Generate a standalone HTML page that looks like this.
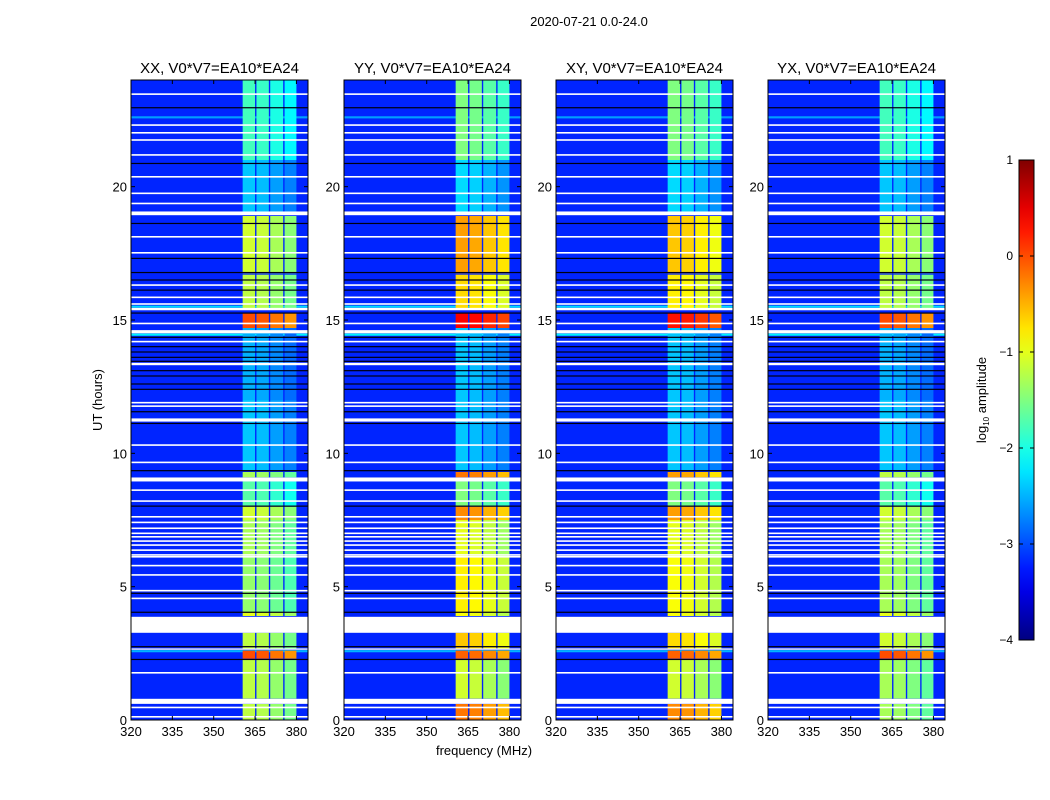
<!DOCTYPE html>
<html><head><meta charset="utf-8">
<style>
html,body{margin:0;padding:0;background:#fff;}
svg{display:block;font-family:"Liberation Sans","DejaVu Sans",sans-serif;}
</style></head>
<body>
<svg id="fig" width="1050" height="800" viewBox="0 0 1050 800" xmlns="http://www.w3.org/2000/svg">
<text x="589" y="26" font-size="13" text-anchor="middle">2020-07-21 0.0-24.0</text>
<text transform="translate(102,400) rotate(-90)" font-size="13" text-anchor="middle">UT (hours)</text>
<text x="484" y="755" font-size="13" text-anchor="middle">frequency (MHz)</text>
<g id="panels"></g>
<g id="cbar"></g>
</svg>
<script>
// ---- data ----
const panelNames = ['XX, V0*V7=EA10*EA24','YY, V0*V7=EA10*EA24','XY, V0*V7=EA10*EA24','YX, V0*V7=EA10*EA24'];
const xTicks = [320,335,350,365,380];
const yTicks = [0,5,10,15,20];
const cbTicks = [1,0,-1,-2,-3,-4];
const bgLevel = -3.2;
const segStart = [21.0,19.0,16.75,15.4,14.7,12.0,9.35,9.1,8.0,7.5,6.1,4.05,3.9,2.65,2.3,0.8,0.0];
const segEnd   = [24.0,21.0,18.9,16.7,15.25,14.7,12.0,9.3,8.95,8.0,7.5,6.1,4.05,3.27,2.6,2.27,0.6];
const levelsXX = [-1.9,-2.5,-1.2,-1.3,-0.1,-2.6,-2.5,-1.4,-1.8,-1.2,-1.4,-1.5,-1.1,-1.3,-0.1,-1.3,-1.3];
const levelsYY = [-1.6,-2.4,-0.5,-0.8,0.3,-2.5,-2.5,-0.3,-1.6,-0.4,-1.1,-0.9,-1.0,-0.7,-0.2,-1.2,-0.3];
const levelsXY = [-1.6,-2.4,-0.7,-0.9,0.2,-2.5,-2.5,-0.5,-1.6,-0.5,-1.1,-1.0,-1.0,-0.8,-0.2,-1.2,-0.4];
const levelsYX = [-1.9,-2.5,-1.2,-1.3,-0.1,-2.6,-2.5,-1.3,-1.8,-1.2,-1.4,-1.4,-1.1,-1.2,-0.1,-1.4,-1.4];
const subStart = [360.5,365.5,370.5,375.7];
const subEnd   = [365.0,370.0,375.2,380.0];
const subOffset = [0.1,0.05,-0.1,-0.25];
const stripeT = [22.6,15.5,14.45,2.58];
const stripeLevel = [-2.6,-2.3,-2.2,-2.5];
const whiteT = [23.47,22.31,22.02,21.75,21.19,20.37,19.75,19.37,19.0,18.12,17.52,16.31,15.85,15.6,15.41,14.87,14.56,14.19,13.35,11.9,11.77,11.25,10.31,9.66,9.02,8.62,8.21,7.62,7.41,7.19,7.0,6.87,6.71,6.56,6.37,6.19,6.12,5.79,5.44,4.85,4.56,3.57,2.66,1.77,0.7,0.47,0.12];
const whiteDur = [0.06,0.06,0.06,0.06,0.06,0.06,0.06,0.06,0.14,0.06,0.06,0.06,0.06,0.06,0.09,0.06,0.12,0.06,0.09,0.06,0.06,0.12,0.06,0.06,0.15,0.06,0.06,0.06,0.06,0.06,0.06,0.06,0.06,0.06,0.06,0.06,0.06,0.06,0.06,0.06,0.06,0.6,0.05,0.06,0.19,0.06,0.06];
const blackT = [22.96,20.87,18.62,17.31,16.78,16.5,16.12,15.26,14.35,14.0,13.8,13.6,13.45,13.1,12.9,12.6,12.4,11.56,11.12,9.35,8.02,4.75,4.04,2.75,2.27];
const panelLevels = [levelsXX,levelsYY,levelsXY,levelsYX];

// ---- layout ----
const panelLeft = [131,344,556,768];
const panelW = 177, plotTop = 80, plotBottom = 720;
const fMin = 320, fMax = 384.2, tMin = 0, tMax = 24;
const NS = 'http://www.w3.org/2000/svg';
function jet(v){
  let x = (v+4)/5; x = Math.max(0,Math.min(1,x));
  const c = a => Math.round(255*Math.max(0,Math.min(1,a)));
  return `rgb(${c(1.5-Math.abs(4*x-3))},${c(1.5-Math.abs(4*x-2))},${c(1.5-Math.abs(4*x-1))})`;
}
function el(tag, attrs, parent){
  const e = document.createElementNS(NS, tag);
  for (const k in attrs) e.setAttribute(k, attrs[k]);
  parent.appendChild(e); return e;
}
const root = document.getElementById('panels');
panelNames.forEach((name, p) => {
  const x0 = panelLeft[p];
  const xs = f => x0 + (f - fMin) / (fMax - fMin) * panelW;
  const ys = t => plotBottom - (t - tMin) / (tMax - tMin) * (plotBottom - plotTop);
  const g = el('g', {}, root);
  
  
  const bg = el('rect', {x:x0, y:plotTop, width:panelW, height:plotBottom-plotTop, fill:jet(bgLevel)}, g);
  
  
  stripeT.forEach((t, i) => {
    const r = el('rect', {x:x0, y:ys(t+0.04), width:panelW, height:ys(t-0.04)-ys(t+0.04), fill:jet(stripeLevel[i])}, g);
    
    
  });
  const lv = panelLevels[p];
  segStart.forEach((s, i) => {
    subStart.forEach((f0, j) => {
      const r = el('rect', {x:xs(f0), y:ys(segEnd[i]), width:xs(subEnd[j])-xs(f0), height:ys(s)-ys(segEnd[i]), fill:jet(lv[i]+subOffset[j])}, g);
      
      
    });
  });
  blackT.forEach(t => {
    const r = el('rect', {x:x0, y:ys(t)-0.6, width:panelW, height:1.2, fill:'#000010'}, g);
    
    
  });
  whiteT.forEach((t, i) => {
    const r = el('rect', {x:x0, y:ys(t+whiteDur[i]/2), width:panelW, height:ys(t-whiteDur[i]/2)-ys(t+whiteDur[i]/2), fill:'#ffffff'}, g);
    
    
  });
  const fr = el('rect', {x:x0, y:plotTop, width:panelW, height:plotBottom-plotTop, fill:'none', stroke:'#000', 'stroke-width':1}, g);
  
  
  const tt = el('text', {x:x0+panelW/2, y:plotTop-7, 'font-size':15, 'text-anchor':'middle'}, g);
  tt.textContent = name;
  
  
  xTicks.forEach(f => {
    const x = xs(f);
    el('line', {x1:x, x2:x, y1:plotBottom, y2:plotBottom-4, stroke:'#000'}, g);
    el('line', {x1:x, x2:x, y1:plotTop, y2:plotTop+4, stroke:'#000'}, g);
    const l = el('text', {x:x, y:plotBottom+16, 'font-size':13, 'text-anchor':'middle'}, g);
    l.textContent = f;
    
    
  });
  yTicks.forEach(t => {
    const y = ys(t);
    el('line', {x1:x0, x2:x0+4, y1:y, y2:y, stroke:'#000'}, g);
    el('line', {x1:x0+panelW, x2:x0+panelW-4, y1:y, y2:y, stroke:'#000'}, g);
    const l = el('text', {x:x0-4, y:y+5, 'font-size':13, 'text-anchor':'end'}, g);
    l.textContent = t;
    
    
  });
});
// colorbar
const cb = document.getElementById('cbar');
const cbX = 1019, cbW = 15, cbTop = 160, cbBot = 640, vMin = -4, vMax = 1;
const cys = v => cbBot - (v - vMin) / (vMax - vMin) * (cbBot - cbTop);
const defs = el('defs', {}, cb);
const grad = el('linearGradient', {id:'jetg', x1:0, y1:1, x2:0, y2:0}, defs);
for (let i = 0; i <= 20; i++) {
  el('stop', {offset:(i/20), 'stop-color':jet(vMin + i/20*(vMax-vMin))}, grad);
}
const cbr = el('rect', {x:cbX, y:cbTop, width:cbW, height:cbBot-cbTop, fill:'url(#jetg)', stroke:'#000', 'stroke-width':1}, cb);


cbTicks.forEach(v => {
  const y = cys(v);
  el('line', {x1:cbX+cbW-4, x2:cbX+cbW, y1:y, y2:y, stroke:'#000'}, cb);
  el('line', {x1:cbX, x2:cbX+4, y1:y, y2:y, stroke:'#000'}, cb);
  const l = el('text', {x:1013, y:y+4, 'font-size':12, 'text-anchor':'end'}, cb);
  l.textContent = v < 0 ? '\u2212' + Math.abs(v) : String(v);
  
  
});
const cl = el('text', {transform:'translate(986,400) rotate(-90)', 'font-size':13, 'text-anchor':'middle'}, cb);
cl.innerHTML = 'log<tspan font-size="8" dy="3">10</tspan><tspan dy="-3"> amplitude</tspan>';


</script>
</body></html>
